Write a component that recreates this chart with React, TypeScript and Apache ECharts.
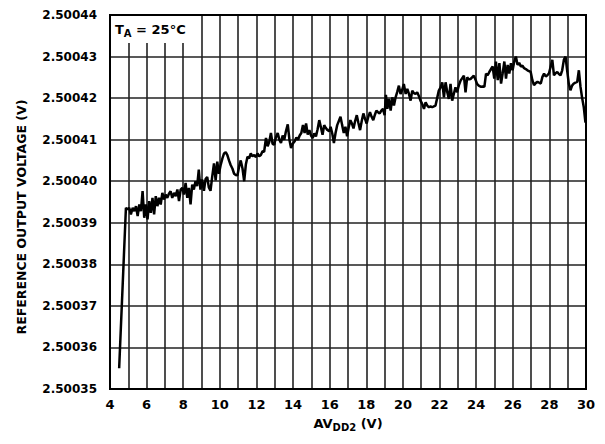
import React, { useEffect, useRef } from "react";
import * as echarts from "echarts";

// x: AVDD2 (V), y: reference output voltage (V)
const readings: [number, number][] = [
  [4.5, 2.500355], [4.87, 2.5003936], [4.96, 2.5003932], [5.05, 2.5003936], [5.14, 2.500392],
  [5.24, 2.5003936], [5.33, 2.5003928], [5.42, 2.500394], [5.51, 2.5003916], [5.6, 2.5003944],
  [5.69, 2.5003928], [5.78, 2.5003976], [5.87, 2.5003912], [5.96, 2.5003944], [6.05, 2.5003908],
  [6.14, 2.5003952], [6.23, 2.5003924], [6.32, 2.500396], [6.41, 2.500392], [6.5, 2.5003964],
  [6.59, 2.500394], [6.68, 2.500396], [6.77, 2.5003944], [6.86, 2.5003972], [6.95, 2.5003956],
  [7.04, 2.5003968], [7.13, 2.500396], [7.22, 2.500397], [7.31, 2.5003976], [7.4, 2.500396],
  [7.5, 2.5003972], [7.59, 2.5003964], [7.68, 2.500398], [7.77, 2.5003952], [7.86, 2.500398],
  [7.95, 2.5003984], [8.04, 2.5003968], [8.13, 2.5003996], [8.22, 2.500396], [8.31, 2.5003984],
  [8.4, 2.5003944], [8.49, 2.5003992], [8.58, 2.500398], [8.67, 2.5004], [8.76, 2.5003988],
  [8.85, 2.5004028], [8.94, 2.500398], [9.03, 2.5004004], [9.13, 2.5003977], [9.22, 2.5004005],
  [9.31, 2.500401], [9.4, 2.5003985], [9.49, 2.5003977], [9.58, 2.500401], [9.68, 2.5004043],
  [9.77, 2.5004002], [9.86, 2.5004047], [9.95, 2.5004018], [10.05, 2.500404], [10.14, 2.5004055],
  [10.23, 2.5004067], [10.32, 2.500407], [10.41, 2.5004063], [10.5, 2.500405], [10.59, 2.5004039],
  [10.69, 2.500403], [10.78, 2.5004018], [10.87, 2.5004015], [10.96, 2.5004014], [11.05, 2.5004035],
  [11.14, 2.500405], [11.24, 2.500403], [11.33, 2.5004], [11.42, 2.500404], [11.51, 2.5004059],
  [11.6, 2.5004055], [11.69, 2.5004067], [11.78, 2.500406], [11.88, 2.5004063], [11.97, 2.5004058],
  [12.06, 2.5004067], [12.15, 2.500406], [12.24, 2.5004063], [12.33, 2.5004072], [12.42, 2.5004071],
  [12.52, 2.5004104], [12.61, 2.5004084], [12.7, 2.5004095], [12.79, 2.5004116], [12.88, 2.500409],
  [12.97, 2.5004088], [13.06, 2.5004105], [13.16, 2.5004116], [13.25, 2.50041], [13.34, 2.5004092],
  [13.43, 2.500411], [13.52, 2.50041], [13.61, 2.500412], [13.71, 2.5004137], [13.8, 2.50041],
  [13.89, 2.500408], [13.98, 2.500409], [14.09, 2.5004096], [14.18, 2.5004105], [14.27, 2.50041],
  [14.36, 2.500411], [14.45, 2.5004116], [14.54, 2.5004135], [14.63, 2.5004116], [14.71, 2.5004139],
  [14.8, 2.5004112], [14.89, 2.5004123], [14.98, 2.500411], [15.07, 2.5004104], [15.16, 2.5004115],
  [15.25, 2.5004108], [15.34, 2.5004125], [15.43, 2.5004147], [15.52, 2.500413], [15.61, 2.5004112],
  [15.7, 2.5004135], [15.79, 2.5004128], [15.88, 2.5004123], [15.97, 2.500412], [16.05, 2.5004131],
  [16.14, 2.5004115], [16.23, 2.5004092], [16.32, 2.5004116], [16.41, 2.5004135], [16.5, 2.5004145],
  [16.59, 2.5004155], [16.68, 2.5004135], [16.77, 2.5004116], [16.86, 2.5004131], [16.95, 2.5004108],
  [17.04, 2.500413], [17.13, 2.5004147], [17.22, 2.5004138], [17.3, 2.5004127], [17.39, 2.5004145],
  [17.48, 2.5004159], [17.57, 2.500414], [17.66, 2.5004123], [17.75, 2.5004145], [17.84, 2.5004163],
  [17.93, 2.500415], [18.02, 2.5004139], [18.11, 2.5004155], [18.2, 2.5004166], [18.29, 2.5004155],
  [18.38, 2.5004147], [18.47, 2.500416], [18.55, 2.500417], [18.64, 2.5004166], [18.73, 2.5004163],
  [18.82, 2.500417], [18.91, 2.5004174], [19.0, 2.5004159], [19.07, 2.5004208], [19.15, 2.5004174],
  [19.24, 2.5004198], [19.33, 2.500417], [19.42, 2.5004202], [19.51, 2.5004182], [19.6, 2.5004202],
  [19.69, 2.5004215], [19.78, 2.500423], [19.87, 2.500421], [19.96, 2.500422], [20.05, 2.5004234],
  [20.15, 2.500421], [20.24, 2.5004222], [20.33, 2.500421], [20.42, 2.5004194], [20.51, 2.5004218],
  [20.6, 2.5004212], [20.69, 2.500421], [20.78, 2.5004214], [20.87, 2.5004205], [20.96, 2.5004194],
  [21.05, 2.5004186], [21.15, 2.5004174], [21.24, 2.500419], [21.33, 2.5004182], [21.42, 2.5004178],
  [21.51, 2.500418], [21.6, 2.5004178], [21.69, 2.500418], [21.78, 2.5004182], [21.87, 2.50042],
  [21.96, 2.5004218], [22.05, 2.5004225], [22.15, 2.5004238], [22.24, 2.5004202], [22.33, 2.5004238],
  [22.42, 2.5004215], [22.51, 2.5004198], [22.6, 2.5004234], [22.69, 2.5004194], [22.78, 2.500421],
  [22.87, 2.5004226], [22.96, 2.5004214], [23.05, 2.500423], [23.15, 2.5004242], [23.24, 2.5004248],
  [23.33, 2.5004254], [23.42, 2.5004214], [23.51, 2.500425], [23.6, 2.5004245], [23.69, 2.5004246],
  [23.78, 2.500425], [23.87, 2.5004254], [23.96, 2.5004245], [24.05, 2.5004234], [24.14, 2.500423],
  [24.27, 2.5004227], [24.36, 2.5004228], [24.45, 2.5004227], [24.54, 2.5004259], [24.63, 2.5004255],
  [24.72, 2.5004263], [24.81, 2.500427], [24.9, 2.5004276], [24.99, 2.5004247], [25.08, 2.5004288],
  [25.18, 2.5004243], [25.27, 2.5004284], [25.36, 2.5004235], [25.45, 2.500426], [25.54, 2.5004288],
  [25.63, 2.5004247], [25.72, 2.500428], [25.81, 2.5004259], [25.9, 2.5004284], [25.99, 2.5004267],
  [26.08, 2.5004288], [26.17, 2.50043], [26.26, 2.500428], [26.35, 2.5004285], [26.44, 2.5004276],
  [26.53, 2.5004278], [26.62, 2.5004272], [26.71, 2.500427], [26.8, 2.5004267], [26.89, 2.5004265],
  [26.98, 2.5004263], [27.07, 2.5004243], [27.16, 2.5004231], [27.25, 2.5004236], [27.35, 2.5004239],
  [27.44, 2.5004237], [27.53, 2.5004235], [27.62, 2.5004251], [27.71, 2.5004259], [27.8, 2.5004252],
  [27.89, 2.5004255], [27.98, 2.500426], [28.07, 2.5004276], [28.16, 2.5004292], [28.25, 2.5004255],
  [28.34, 2.500426], [28.43, 2.5004263], [28.52, 2.5004258], [28.61, 2.5004255], [28.7, 2.5004267],
  [28.79, 2.5004292], [28.88, 2.50043], [28.97, 2.5004267], [29.06, 2.5004235], [29.15, 2.5004219],
  [29.24, 2.500423], [29.33, 2.5004235], [29.42, 2.5004237], [29.52, 2.5004239], [29.61, 2.5004267],
  [29.7, 2.5004227], [29.79, 2.50042], [29.88, 2.5004178], [29.97, 2.5004141],
];

const xMin = 4;
const xMax = 30;
const yMin = 2.50035;
const yMax = 2.50044;

const FONT = "DejaVu Sans";

export default function App() {
  const ref = useRef<HTMLDivElement>(null);
  useEffect(() => {
    if (!ref.current) return;
    const chart = echarts.init(ref.current, null, { renderer: "svg" });
    chart.setOption({
      animation: false,
      backgroundColor: "#fff",
      grid: {
        left: 110,
        right: 19,
        top: 15,
        bottom: 55,
        show: true,
        borderColor: "#000",
        borderWidth: 2,
        backgroundColor: "transparent",
        z: 5,
      },
      xAxis: {
        type: "value",
        min: xMin,
        max: xMax,
        interval: 1,
        axisLine: { show: false },
        axisTick: { show: false },
        splitLine: { show: true, lineStyle: { color: "#222", width: 1.6 } },
        axisLabel: {
          color: "#000",
          fontFamily: FONT,
          fontWeight: "bold",
          fontSize: 13,
          margin: 9,
          formatter: (v: number) => (v % 2 === 0 ? String(v) : ""),
        },
        name: "AV{sub|DD2} (V)",
        nameLocation: "middle",
        nameGap: 25,
        nameTextStyle: {
          color: "#000",
          fontFamily: FONT,
          fontWeight: "bold",
          fontSize: 13,
          rich: {
            sub: {
              fontFamily: FONT,
              fontWeight: "bold",
              fontSize: 10,
              color: "#000",
              padding: [8, 0, 0, 0],
            },
          },
        },
      },
      yAxis: {
        type: "value",
        min: yMin,
        max: yMax,
        interval: 0.00001,
        axisLine: { show: false },
        axisTick: { show: false },
        splitLine: { show: true, lineStyle: { color: "#222", width: 1.6 } },
        axisLabel: {
          color: "#000",
          fontFamily: FONT,
          fontWeight: "bold",
          fontSize: 12,
          margin: 13,
          formatter: (v: number) => v.toFixed(5),
        },
      },
      graphic: [
        {
          type: "rect",
          z: 100,
          shape: { x: 112, y: 16, width: 77, height: 27 },
          style: { fill: "#fff" },
        },
        {
          type: "text",
          z: 101,
          x: 115,
          y: 29,
          style: {
            text: "T{sub|A} = 25°C",
            fontFamily: FONT,
            fontWeight: "bold",
            fontSize: 13,
            fill: "#000",
            verticalAlign: "middle",
            rich: {
              sub: {
                fontFamily: FONT,
                fontWeight: "bold",
                fontSize: 10,
                fill: "#000",
                padding: [8, 0, 0, 0],
              },
            },
          },
        },
        {
          type: "text",
          z: 101,
          x: 21,
          y: 217,
          rotation: Math.PI / 2,
          style: {
            text: "REFERENCE OUTPUT VOLTAGE (V)",
            fontFamily: FONT,
            fontWeight: "bold",
            fontSize: 12.5,
            fill: "#000",
            align: "center",
            verticalAlign: "middle",
          },
        },
      ],
      series: [
        {
          type: "line",
          data: readings,
          showSymbol: false,
          symbol: "none",
          lineStyle: { color: "#000", width: 2.5 },
          z: 10,
        },
      ],
    });
    return () => chart.dispose();
  }, []);
  return (
    <div
      ref={ref}
      style={{ position: "fixed", left: 0, top: 0, width: 605, height: 444 }}
    />
  );
}
